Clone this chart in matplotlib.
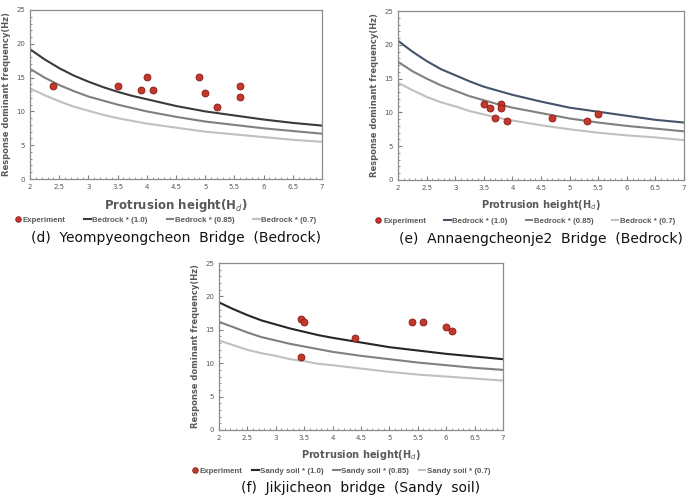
import matplotlib.pyplot as plt
from matplotlib.ticker import MultipleLocator

x_curve = [2, 2.25, 2.5, 2.75, 3, 3.25, 3.5, 3.75, 4, 4.5, 5, 5.5, 6, 6.5, 7]

# (d) Yeompyeongcheon Bridge (Bedrock)
d_10 = [19.2, 17.7, 16.4, 15.3, 14.4, 13.6, 12.9, 12.3, 11.8, 10.8, 10.0, 9.4, 8.8, 8.3, 7.9]
d_085 = [16.3, 15.0, 13.9, 13.0, 12.2, 11.6, 11.0, 10.5, 10.0, 9.2, 8.5, 8.0, 7.5, 7.1, 6.7]
d_07 = [13.4, 12.4, 11.5, 10.7, 10.1, 9.5, 9.0, 8.6, 8.2, 7.6, 7.0, 6.6, 6.2, 5.8, 5.5]
d_exp_x = [2.4, 3.5, 3.9, 4.0, 4.1, 4.9, 5.0, 5.2, 5.6, 5.6]
d_exp_y = [13.7, 13.7, 13.2, 15.1, 13.2, 15.1, 12.7, 10.7, 13.7, 12.2]

# (e) Annaengcheonje2 Bridge (Bedrock)
e_10 = [20.6, 19.0, 17.6, 16.4, 15.5, 14.6, 13.8, 13.2, 12.6, 11.6, 10.7, 10.1, 9.5, 8.9, 8.5]
e_085 = [17.5, 16.1, 15.0, 14.0, 13.2, 12.4, 11.8, 11.2, 10.7, 9.9, 9.1, 8.5, 8.0, 7.6, 7.2]
e_07 = [14.4, 13.3, 12.3, 11.5, 10.9, 10.2, 9.7, 9.2, 8.8, 8.1, 7.5, 7.0, 6.6, 6.3, 5.9]
e_exp_x = [3.5, 3.6, 3.7, 3.8, 3.8, 3.9, 4.7, 5.3, 5.5]
e_exp_y = [11.2, 10.7, 9.2, 11.2, 10.7, 8.7, 9.2, 8.7, 9.7]

# (f) Jikjicheon bridge (Sandy soil)
f_10 = [19.1, 18.1, 17.2, 16.4, 15.8, 15.2, 14.7, 14.2, 13.8, 13.1, 12.4, 11.9, 11.4, 11.0, 10.6]
f_085 = [16.2, 15.4, 14.6, 13.9, 13.4, 12.9, 12.5, 12.1, 11.7, 11.1, 10.6, 10.1, 9.7, 9.3, 9.0]
f_07 = [13.4, 12.7, 12.0, 11.5, 11.1, 10.6, 10.3, 9.9, 9.7, 9.2, 8.7, 8.3, 8.0, 7.7, 7.4]
f_exp_x = [3.45, 3.5, 3.45, 4.4, 5.4, 5.6, 6.0, 6.1]
f_exp_y = [16.6, 16.2, 11.0, 13.8, 16.2, 16.2, 15.4, 14.8]

x_ticks = [2, 2.5, 3, 3.5, 4, 4.5, 5, 5.5, 6, 6.5, 7]
x_tick_labels = ['2', '2.5', '3', '3.5', '4', '4.5', '5', '5.5', '6', '6.5', '7']

W, H = 686, 499
fig = plt.figure(figsize=(W / 100, H / 100), dpi=100)


def box(x0, x1, ytop, ybot):
    return [x0 / W, (H - ybot) / H, (x1 - x0) / W, (ybot - ytop) / H]


def panel(rect, c10, c085, c07, ex, ey, soil, caption, dark, xlab_size, colsp, legx):
    ax = fig.add_axes(rect)
    ax.plot(ex, ey, 'o', ms=5, color='#c0392b', mec='#8b1a1a', mew=0.6,
            label='Experiment', zorder=3)
    ax.plot(x_curve, c10, color=dark, lw=1.5, label=soil + ' * (1.0)')
    ax.plot(x_curve, c085, color='#808080', lw=1.5, label=soil + ' * (0.85)')
    ax.plot(x_curve, c07, color='#c0c0c0', lw=1.5, label=soil + ' * (0.7)')
    ax.set_xlim(2, 7)
    ax.set_ylim(0, 25)
    ax.set_xticks(x_ticks)
    ax.set_xticklabels(x_tick_labels)
    ax.xaxis.set_minor_locator(MultipleLocator(0.1))
    ax.yaxis.set_major_locator(MultipleLocator(5))
    ax.yaxis.set_minor_locator(MultipleLocator(1))
    ax.tick_params(which='both', direction='in', colors='#808080',
                   labelcolor='#595959', labelsize=5)
    ax.tick_params(which='major', length=3)
    ax.tick_params(which='minor', length=1.5)
    for s in ax.spines.values():
        s.set_color('#8c8c8c')
        s.set_linewidth(0.9)
    ax.set_ylabel('Response dominant frequency(Hz)', fontsize=6,
                  fontweight='bold', color='#595959', labelpad=4)
    ax.set_xlabel(r'Protrusion height(H$_d$)', fontsize=xlab_size,
                  fontweight='bold', color='#595959', labelpad=5)
    leg = ax.legend(loc='upper center', bbox_to_anchor=(legx, -0.18), ncol=4,
                    frameon=False, handlelength=0.8,
                    prop={'family': 'Liberation Sans', 'weight': 'bold', 'size': 5.7},
                    handletextpad=0.2, columnspacing=colsp, markerscale=0.8)
    for t in leg.get_texts():
        t.set_color('#595959')
    ax.text(0.5, -0.35, caption, transform=ax.transAxes, ha='center',
            va='center', fontsize=10, color='#111111')
    return ax


panel(box(30, 322, 10, 179), d_10, d_085, d_07, d_exp_x, d_exp_y,
      'Bedrock', '(d)  Yeompyeongcheon  Bridge  (Bedrock)', '#3a3a3a', 8.5, 2.4, 0.464)
panel(box(398, 684, 11, 180), e_10, e_085, e_07, e_exp_x, e_exp_y,
      'Bedrock', '(e)  Annaengcheonje2  Bridge  (Bedrock)', '#44546a', 7, 2.3, 0.444)
panel(box(219, 503, 263, 430), f_10, f_085, f_07, f_exp_x, f_exp_y,
      'Sandy soil', '(f)  Jikjicheon  bridge  (Sandy  soil)', '#262626', 7, 1.2, 0.43)

fig.savefig('out.png', dpi=100)
